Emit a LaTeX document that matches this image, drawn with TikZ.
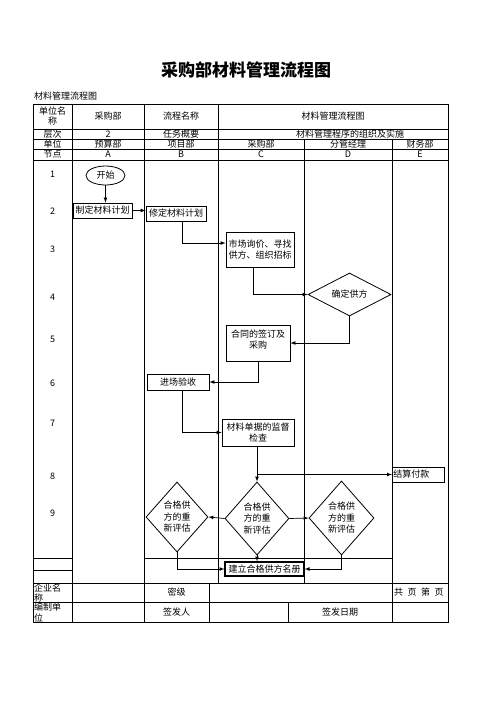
\documentclass[tikz,border=0pt]{standalone}
\usepackage{fontspec}
\setmainfont{Noto Sans CJK SC}
\usepackage{tikz}
\usetikzlibrary{shapes.geometric}
\usetikzlibrary{positioning}

\begin{document}
\begin{tikzpicture}
    [
    x=1pt, y=-1pt,
    every node/.style={font=\fontsize{9}{11}\selectfont},
    grid/.style={line width=0.8pt},
    box/.style={draw,line width=0.8pt,inner sep=1pt},
    oval/.style={ellipse,draw,line width=0.8pt,inner sep=0pt,minimum width=39pt,minimum height=19pt},
    decision/.style={diamond,draw,line width=0.8pt,inner sep=0pt,align=center},
    flow/.style={-latex,line width=0.7pt},
    ]
    \useasboundingbox (0,0) rectangle (496,702);

    \node (title) at (246,70) [font=\fontsize{17}{20}\selectfont\bfseries] {采购部材料管理流程图};
    \node (sub) at (33,96) [anchor=west,inner sep=1pt] {材料管理流程图};

    % table
    \draw [grid] (33,104) rectangle (448,622);
    \foreach \y in {129,139,149,160,583,602}
      \draw [grid] (33,\y) -- (448,\y);
    \draw [grid] (33,558) -- (72,558) (144,558) -- (392,558) (33,570) -- (72,570);
    \draw [grid] (72,104) -- (72,622) (144,104) -- (144,622) (218,104) -- (218,583);
    \draw [grid] (304,139) -- (304,583) (392,139) -- (392,622);
    \draw [grid] (209,583) -- (209,622) (288,602) -- (288,622);

    \node (h11) at (52.5,116.5) [align=center,font=\fontsize{9}{10}\selectfont] {单位名\\称};
    \node (h12) at (108,116.5) {采购部};
    \node (h13) at (181,116.5) {流程名称};
    \node (h14) at (333,116.5) {材料管理流程图};
    \node (h21) at (52.5,134) {层次};
    \node (h22) at (108,134) {2};
    \node (h23) at (181,134) {任务概要};
    \node (h24) at (350,134) {材料管理程序的组织及实施};
    \node (h31) at (52.5,144) {单位};
    \node (h32) at (108,144) {预算部};
    \node (h33) at (181,144) {项目部};
    \node (h34) at (261,144) {采购部};
    \node (h35) at (348,144) {分管经理};
    \node (h36) at (420,144) {财务部};
    \node (h41) at (52.5,154.5) {节点};
    \node (h42) at (108,154.5) {A};
    \node (h43) at (181,154.5) {B};
    \node (h44) at (261,154.5) {C};
    \node (h45) at (348,154.5) {D};
    \node (h46) at (420,154.5) {E};

    \foreach \n/\y in {1/174,2/211,3/249,4/297,5/339,6/383,7/423,8/476,9/513}
      \node (r\n) at (52.5,\y) {\n};

    \node (f11) at (33,583) [anchor=north west,align=left,inner sep=1pt,font=\fontsize{9}{10}\selectfont] {企业名\\称};
    \node (f12) at (176.5,592.5) {密级};
    \node (f13) at (393,592.5) [anchor=west,inner sep=1pt] {共\hspace{4.5pt}页\hspace{4.5pt}第\hspace{4.5pt}页};
    \node (f21) at (33,602) [anchor=north west,align=left,inner sep=1pt,font=\fontsize{9}{11}\selectfont] {编制单\\位};
    \node (f22) at (176.5,612) {签发人};
    \node (f23) at (340,612) {签发日期};

    % flow
    \node (start) at (105.5,175.5) [oval] {开始};
    \node (plan) at (102.5,210.5) [box,minimum width=59pt,minimum height=15pt] {制定材料计划};
    \node (revise) at (176,213.5) [box,minimum width=60pt,minimum height=15pt] {修定材料计划};
    \node (inquiry) at (260,249.5) [box,minimum width=68pt,minimum height=35pt,align=left] {市场询价、寻找\\供方、组织招标};
    \node (confirm) at (349.5,294.5) [decision,shape aspect=2,minimum width=83pt,minimum height=43pt] {确定供方};
    \node (contract) at (258,343) [box,minimum width=64pt,minimum height=36pt] {\parbox[t][27pt][t]{60pt}{\centering 合同的签订及\\采购}};
    \node (accept) at (178,382) [box,minimum width=62pt,minimum height=16pt] {进场验收};
    \node (inspect) at (258,432.5) [box,minimum width=72pt,minimum height=27pt,align=center] {材料单据的监督\\检查};
    \node (pay) at (392,474.5) [box,anchor=west,text width=50pt,align=left,minimum height=15pt] {结算付款};
    \node (evalL) at (177,517) [decision,minimum width=62pt,minimum height=70pt,font=\fontsize{9}{11.5}\selectfont] {合格供\\方的重\\新评估};
    \node (evalM) at (257,518.5) [decision,minimum width=64pt,minimum height=73pt,font=\fontsize{9}{11.5}\selectfont] {合格供\\方的重\\新评估};
    \node (evalR) at (341.5,518) [decision,minimum width=65pt,minimum height=74pt,font=\fontsize{9}{11.5}\selectfont] {合格供\\方的重\\新评估};
    \node (register) at (264.5,569) [box,line width=1.2pt,minimum width=79pt,minimum height=14pt] {建立合格供方名册};

    \draw [flow] (start.south) -- (start.south |- plan.north);
    \draw [flow] (plan.east) -- (plan.east -| revise.west);
    \draw [flow] ([xshift=6pt]revise.south) |- (inquiry.west |- 0,243);
    \draw [flow] ([xshift=-7pt]inquiry.south) |- (confirm.west);
    \draw [flow] (confirm.south) |- (contract.east);
    \draw [flow] (contract.south) |- (accept.east);
    \draw [flow] ([xshift=4pt]accept.south) |- (inspect.west);
    \coordinate (fork) at (evalM.north |- pay.west);
    \draw [flow] (inspect.south -| evalM.north) -- (evalM.north);
    \draw [flow] (fork) -- (pay.west);
    \draw [flow] (evalM.west) -- (evalL.east);
    \draw [flow] (evalM.east) -- (evalR.west);
    \draw [flow] (evalM.south) -- (evalM.south |- register.north);
    \draw [flow] (evalL.south) |- (register.west);
    \draw [flow] (evalR.south) |- (register.east);
\end{tikzpicture}
\end{document}
